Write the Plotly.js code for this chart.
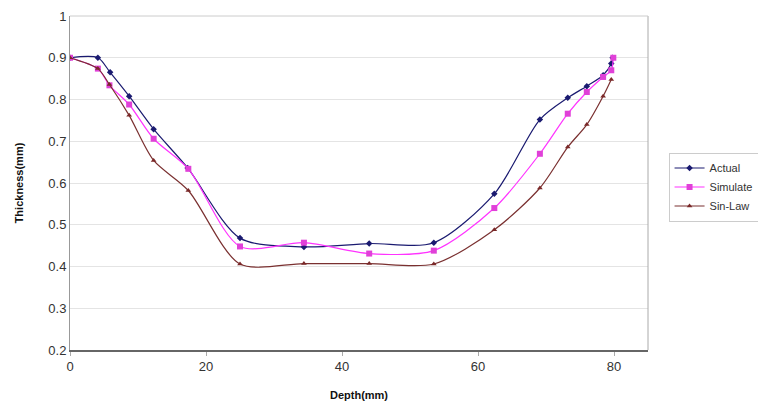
<!DOCTYPE html>
<html>
<head>
<meta charset="utf-8">
<script src="https://cdn.plot.ly/plotly-3.0.1.min.js"></script>
<style>html,body{margin:0;padding:0;background:#fff;}#chart{width:758px;height:410px;}</style>
</head>
<body>
<div id="chart"></div>
<script>
// Depth (mm) and thickness (mm) values
const actualX = [0, 4.1, 5.9, 8.7, 12.3, 17.3, 25.0, 34.4, 44.0, 53.5, 62.4, 69.1, 73.2, 76.0, 78.4, 79.6, 79.8];
const actualY = [0.9, 0.9, 0.865, 0.808, 0.729, 0.636, 0.468, 0.447, 0.455, 0.457, 0.574, 0.752, 0.804, 0.832, 0.858, 0.886, 0.9];

const simX = [0, 4.1, 5.8, 8.7, 12.3, 17.4, 25.0, 34.4, 44.0, 53.5, 62.4, 69.1, 73.2, 76.0, 78.4, 79.6, 79.9];
const simY = [0.9, 0.874, 0.834, 0.788, 0.706, 0.634, 0.448, 0.457, 0.431, 0.438, 0.540, 0.670, 0.766, 0.818, 0.854, 0.870, 0.9];

const sinX = [0, 4.1, 5.8, 8.7, 12.3, 17.4, 25.0, 34.4, 44.0, 53.5, 62.4, 69.1, 73.2, 76.0, 78.4, 79.6];
const sinY = [0.9, 0.874, 0.836, 0.762, 0.654, 0.582, 0.406, 0.407, 0.407, 0.406, 0.488, 0.588, 0.686, 0.740, 0.808, 0.848];

const seriesNames = ['Actual', 'Simulate', 'Sin-Law'];
const xTicks = [0, 20, 40, 60, 80];
const yTicks = [0.2, 0.3, 0.4, 0.5, 0.6, 0.7, 0.8, 0.9, 1];

const font = 'Liberation Sans, Arial, sans-serif';

const traces = [
  {x: actualX, y: actualY, name: seriesNames[0], mode: 'lines+markers',
   line: {color: '#1a1a70', width: 1.2, shape: 'spline', smoothing: 0.8},
   marker: {symbol: 'diamond', size: 5, color: '#1a1a70'}},
  {x: simX, y: simY, name: seriesNames[1], mode: 'lines+markers',
   line: {color: '#ff33ff', width: 1.2, shape: 'spline', smoothing: 0.8},
   marker: {symbol: 'square', size: 6, color: '#e040d8'}},
  {x: sinX, y: sinY, name: seriesNames[2], mode: 'lines+markers',
   line: {color: '#7a3030', width: 1.2, shape: 'spline', smoothing: 0.8},
   marker: {symbol: 'triangle-up', size: 5, color: '#7a2828'}}
];

const layout = {
  width: 758, height: 410,
  margin: {l: 70, r: 110, t: 16, b: 60},
  paper_bgcolor: '#fff', plot_bgcolor: '#fff',
  font: {family: font, size: 13, color: '#333'},
  showlegend: true,
  legend: {xref: 'container', yref: 'container', x: 0.882, y: 0.628, xanchor: 'left', yanchor: 'top',
           bgcolor: '#fff', bordercolor: '#ccc', borderwidth: 1,
           font: {family: font, size: 11, color: '#333'}, tracegroupgap: 0},
  xaxis: {
    range: [0, 85], tickvals: xTicks, ticktext: xTicks.map(String),
    showgrid: false, zeroline: false,
    showline: true, linecolor: '#666', linewidth: 1.5, mirror: false,
    ticks: 'outside', ticklen: 4, tickcolor: '#aaa',
    tickfont: {family: font, size: 13, color: '#333'},
    title: {text: 'Depth(mm)', font: {family: font, size: 11, color: '#111', weight: 'bold'}, standoff: 18}
  },
  yaxis: {
    range: [0.2, 1], tickvals: yTicks, ticktext: yTicks.map(v => v === 1 ? '1' : v.toFixed(1)),
    showgrid: true, gridcolor: '#e4e4e4', gridwidth: 1, zeroline: false,
    showline: true, linecolor: '#999', linewidth: 1,
    ticks: '', tickfont: {family: font, size: 13, color: '#333'},
    title: {text: 'Thickness(mm)', font: {family: font, size: 11, color: '#111', weight: 'bold'}, standoff: 22}
  },
  shapes: [
    {type: 'line', xref: 'paper', yref: 'paper', x0: 1, x1: 1, y0: 0, y1: 1,
     line: {color: '#aaa', width: 1}},
    {type: 'line', xref: 'paper', yref: 'paper', x0: 0, x1: 1, y0: 1, y1: 1,
     line: {color: '#ccc', width: 1}}
  ]
};

Plotly.newPlot('chart', traces, layout, {displayModeBar: false, staticPlot: true});
</script>
</body>
</html>
